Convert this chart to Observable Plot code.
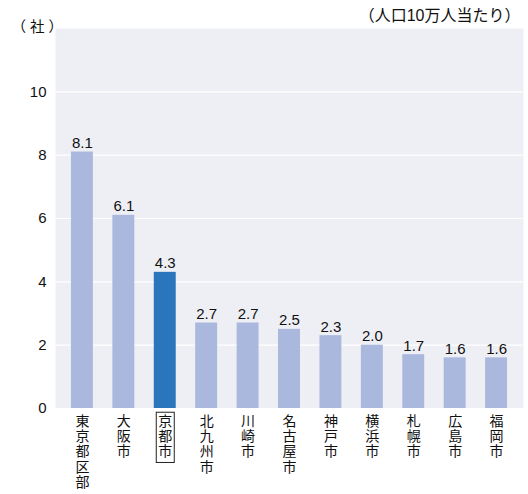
<!DOCTYPE html>
<html><head><meta charset="utf-8">
<script src="https://cdn.jsdelivr.net/npm/d3@7"></script>
<script src="https://cdn.jsdelivr.net/npm/@observablehq/plot@0.6"></script>
<style>
body{margin:0;background:#fff;}
#chart svg{display:block;}
</style>
</head><body><div id="chart"></div>
<script>
const cities = ["東京都区部","大阪市","京都市","北九州市","川崎市","名古屋市","神戸市","横浜市","札幌市","広島市","福岡市"];
const values = [8.1,6.1,4.3,2.7,2.7,2.5,2.3,2.0,1.7,1.6,1.6];
const highlight = "京都市";
const yTicks = [0,2,4,6,8,10];
const yUnit = "（ 社 ）";
const rightNote = "（人口10万人当たり）";

const data = cities.map((c,i)=>({city:c, value:values[i]}));
const font = "'Liberation Sans', Arial, 'Noto Sans CJK JP', sans-serif";

const chart = Plot.plot({
  width: 528, height: 494,
  marginLeft: 55, marginRight: 5, marginTop: 28, marginBottom: 86,
  style: {fontFamily: font, fontSize: "14px", color: "#111", background: "#fff"},
  x: {domain: cities, paddingInner: 0.47, paddingOuter: 0.385, round: false, label: null},
  y: {domain: [0, 12], label: null},
  marks: [
    Plot.frame({fill: "#eeeff5", stroke: null}),
    Plot.gridY(yTicks, {stroke: "#fff", strokeOpacity: 1, strokeWidth: 1.2}),
    Plot.barY(data, {x: "city", y: "value", fill: d => d.city === highlight ? "#2a76bd" : "#abb8de"}),
    Plot.text(data, {x: "city", y: "value", text: d => d.value.toFixed(1), lineAnchor: "bottom", dy: -4, fontSize: 15, fill: "#111"}),
    Plot.axisY(yTicks, {tickSize: 0, tickPadding: 9, label: null, fontSize: 15}),
    Plot.axisX({tickSize: 0, tickPadding: 7, label: null, fontSize: 14, lineHeight: 1.08,
      tickFormat: d => d.split("").join("\n"), lineAnchor: "top"}),
    Plot.text([yUnit], {frameAnchor: "top-left", dx: -44, dy: -1, lineAnchor: "middle", textAnchor: "start", fontSize: 14.5, text: d => d}),
    Plot.text([rightNote], {frameAnchor: "top-right", dx: -3, dy: -13, lineAnchor: "middle", textAnchor: "end", fontSize: 16, text: d => d})
  ]
});
document.getElementById("chart").appendChild(chart);

// box around the highlighted tick label
d3.select(chart).selectAll("g[aria-label='x-axis tick label'] text").each(function(){
  if (this.textContent === highlight) {
    const b = this.getBBox();
    d3.select(this.parentNode).insert("rect", () => this)
      .attr("transform", this.getAttribute("transform"))
      .attr("x", b.x - 2).attr("y", b.y - 1)
      .attr("width", b.width + 4).attr("height", b.height + 4)
      .attr("fill", "none").attr("stroke", "#222").attr("stroke-width", 1);
  }
});
</script>
</body></html>
